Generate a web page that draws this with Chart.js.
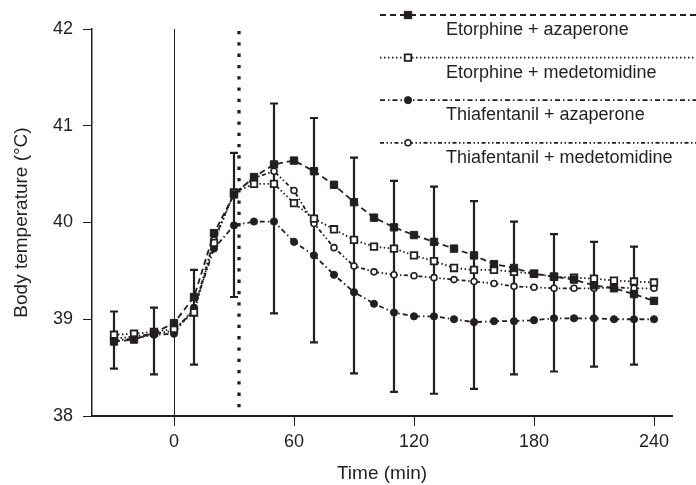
<!DOCTYPE html>
<html>
<head>
<meta charset="utf-8">
<script src="https://cdn.jsdelivr.net/npm/chart.js@4.4.1/dist/chart.umd.min.js"></script>
<style>
  body { margin: 0; background: #fff; }
  canvas { display: block; }
</style>
</head>
<body>
<canvas id="tempChart" width="696" height="485"></canvas>
<script>
// ===== DATA =====
const times = [-30,-20,-10,0,10,20,30,40,50,60,70,80,90,100,110,120,130,140,150,160,170,180,190,200,210,220,230,240];

const seriesNames = [
  'Etorphine + azaperone',
  'Etorphine + medetomidine',
  'Thiafentanil + azaperone',
  'Thiafentanil + medetomidine'
];

const etorAza  = [38.77,38.79,38.86,38.96,39.23,39.89,40.29,40.47,40.60,40.64,40.53,40.39,40.21,40.05,39.95,39.87,39.80,39.73,39.66,39.57,39.53,39.47,39.44,39.41,39.35,39.32,39.26,39.19];
const etorMed  = [38.84,38.85,38.87,38.90,39.07,39.79,40.31,40.40,40.40,40.20,40.04,39.93,39.82,39.75,39.73,39.66,39.60,39.53,39.51,39.51,39.49,39.47,39.44,39.43,39.42,39.40,39.39,39.38];
const thiaAza  = [38.78,38.80,38.84,38.85,39.12,39.73,39.97,40.01,40.01,39.80,39.66,39.46,39.28,39.16,39.07,39.03,39.03,39.00,38.97,38.98,38.98,38.99,39.01,39.01,39.01,39.00,39.00,39.00];
const thiaMed  = [38.80,38.82,38.85,38.88,39.10,39.82,40.30,40.46,40.53,40.33,39.99,39.74,39.55,39.49,39.46,39.45,39.43,39.41,39.39,39.37,39.34,39.33,39.32,39.32,39.32,39.33,39.32,39.32];

// error bars (one per listed time point)
const errTimes = [-30,-10,10,30,50,70,90,110,130,150,170,190,210,230];
const errLow   = [38.49,38.43,38.53,39.23,39.06,38.76,38.44,38.25,38.23,38.28,38.43,38.46,38.51,38.53];
const errHigh  = [39.08,39.12,39.51,40.72,41.23,41.08,40.67,40.43,40.37,40.22,40.01,39.88,39.80,39.75];

const xTicks = [0, 60, 120, 180, 240];
const drugTime = 0;       // solid reference line
const dottedTime = 32.5;  // dotted reference line

const INK = '#231f20';
Chart.defaults.font.family = "'Liberation Sans', Arial, sans-serif";
Chart.defaults.color = INK;

function toPts(vals) { return times.map((t, i) => ({ x: t, y: vals[i] })); }

function makeSet(label, vals, dash, style, radius, filled, bw) {
  return {
    label, data: toPts(vals),
    borderColor: INK, borderWidth: 1.8, borderDash: dash,
    pointStyle: style, pointRadius: radius,
    pointBackgroundColor: filled ? INK : '#fff',
    pointBorderColor: INK, pointBorderWidth: bw,
    tension: 0, fill: false
  };
}

const datasets = [
  makeSet(seriesNames[0], etorAza, [6, 4], 'rect', 5.2, true, 1),
  makeSet(seriesNames[1], etorMed, [1.5, 2.5], 'rect', 4.6, false, 1.8),
  makeSet(seriesNames[2], thiaAza, [5, 3, 1.5, 3], 'circle', 3.6, true, 1),
  makeSet(seriesNames[3], thiaMed, [4, 2.5, 1.5, 2.5, 1.5, 2.5], 'circle', 3, false, 1.6)
];

// reference lines + error bars, drawn under the series
const underlay = {
  id: 'underlay',
  beforeDatasetsDraw(chart) {
    const { ctx, chartArea: a, scales: { x, y } } = chart;
    ctx.save();
    ctx.strokeStyle = INK;
    // solid line at time 0
    ctx.lineWidth = 1;
    let px = Math.round(x.getPixelForValue(drugTime)) + 0.5;
    ctx.beginPath(); ctx.moveTo(px, a.top); ctx.lineTo(px, a.bottom); ctx.stroke();
    // thick dotted line
    ctx.lineWidth = 3.3;
    ctx.setLineDash([3.3, 8]);
    px = x.getPixelForValue(dottedTime);
    ctx.beginPath(); ctx.moveTo(px, a.top + 2); ctx.lineTo(px, a.bottom); ctx.stroke();
    ctx.setLineDash([]);
    // error bars
    ctx.lineWidth = 2.2;
    errTimes.forEach((t, i) => {
      const ex = x.getPixelForValue(t);
      const y1 = y.getPixelForValue(errHigh[i]);
      const y2 = y.getPixelForValue(errLow[i]);
      ctx.beginPath();
      ctx.moveTo(ex, y1); ctx.lineTo(ex, y2);
      ctx.moveTo(ex - 4, y1); ctx.lineTo(ex + 4, y1);
      ctx.moveTo(ex - 4, y2); ctx.lineTo(ex + 4, y2);
      ctx.stroke();
    });
    ctx.restore();
  }
};

// legend: a long styled line with the marker, name underneath
const lineLegend = {
  id: 'lineLegend',
  afterDraw(chart) {
    const ctx = chart.ctx;
    ctx.save();
    chart.data.datasets.forEach((ds, i) => {
      const ly = 15 + i * 42.6;
      ctx.strokeStyle = INK;
      ctx.lineWidth = ds.borderWidth;
      ctx.setLineDash(ds.borderDash);
      ctx.beginPath(); ctx.moveTo(380, ly); ctx.lineTo(696, ly); ctx.stroke();
      ctx.setLineDash([]);
      ctx.fillStyle = ds.pointBackgroundColor;
      ctx.lineWidth = ds.pointBorderWidth;
      Chart.helpers.drawPoint(ctx, { pointStyle: ds.pointStyle, radius: ds.pointRadius, borderWidth: ds.pointBorderWidth }, 408, ly);
      ctx.fillStyle = INK;
      ctx.font = "18px 'Liberation Sans', Arial, sans-serif";
      ctx.textAlign = 'left';
      ctx.textBaseline = 'alphabetic';
      ctx.fillText(ds.label, 446, ly + 20);
    });
    ctx.restore();
  }
};

new Chart(document.getElementById('tempChart'), {
  type: 'line',
  data: { datasets },
  plugins: [underlay, lineLegend],
  options: {
    responsive: false,
    animation: false,
    devicePixelRatio: 1,
    layout: { padding: { top: 29, right: 24, left: 0, bottom: 0 } },
    plugins: { legend: { display: false }, tooltip: { enabled: false } },
    scales: {
      x: {
        type: 'linear', min: -41, max: 249,
        afterBuildTicks: s => { s.ticks = xTicks.map(v => ({ value: v })); },
        afterFit: s => { s.height = 69; },
        ticks: { font: { size: 18 }, color: INK, padding: 5, maxRotation: 0 },
        grid: { drawOnChartArea: false, drawTicks: true, tickLength: 10, color: INK, lineWidth: 1 },
        border: { display: true, color: INK, width: 2 },
        title: { display: true, text: 'Time (min)', font: { size: 19 }, color: INK, padding: 0 }
      },
      y: {
        min: 38, max: 42,
        afterFit: s => { s.width = 92; },
        ticks: { stepSize: 1, font: { size: 18 }, color: INK, padding: 10 },
        grid: { drawOnChartArea: false, drawTicks: true, tickLength: 9, color: INK, lineWidth: 1 },
        border: { display: true, color: INK, width: 1.5 },
        title: { display: true, text: 'Body temperature (°C)', font: { size: 19 }, color: INK, padding: { top: 10, bottom: 0 } }
      }
    }
  }
});
</script>
</body>
</html>
